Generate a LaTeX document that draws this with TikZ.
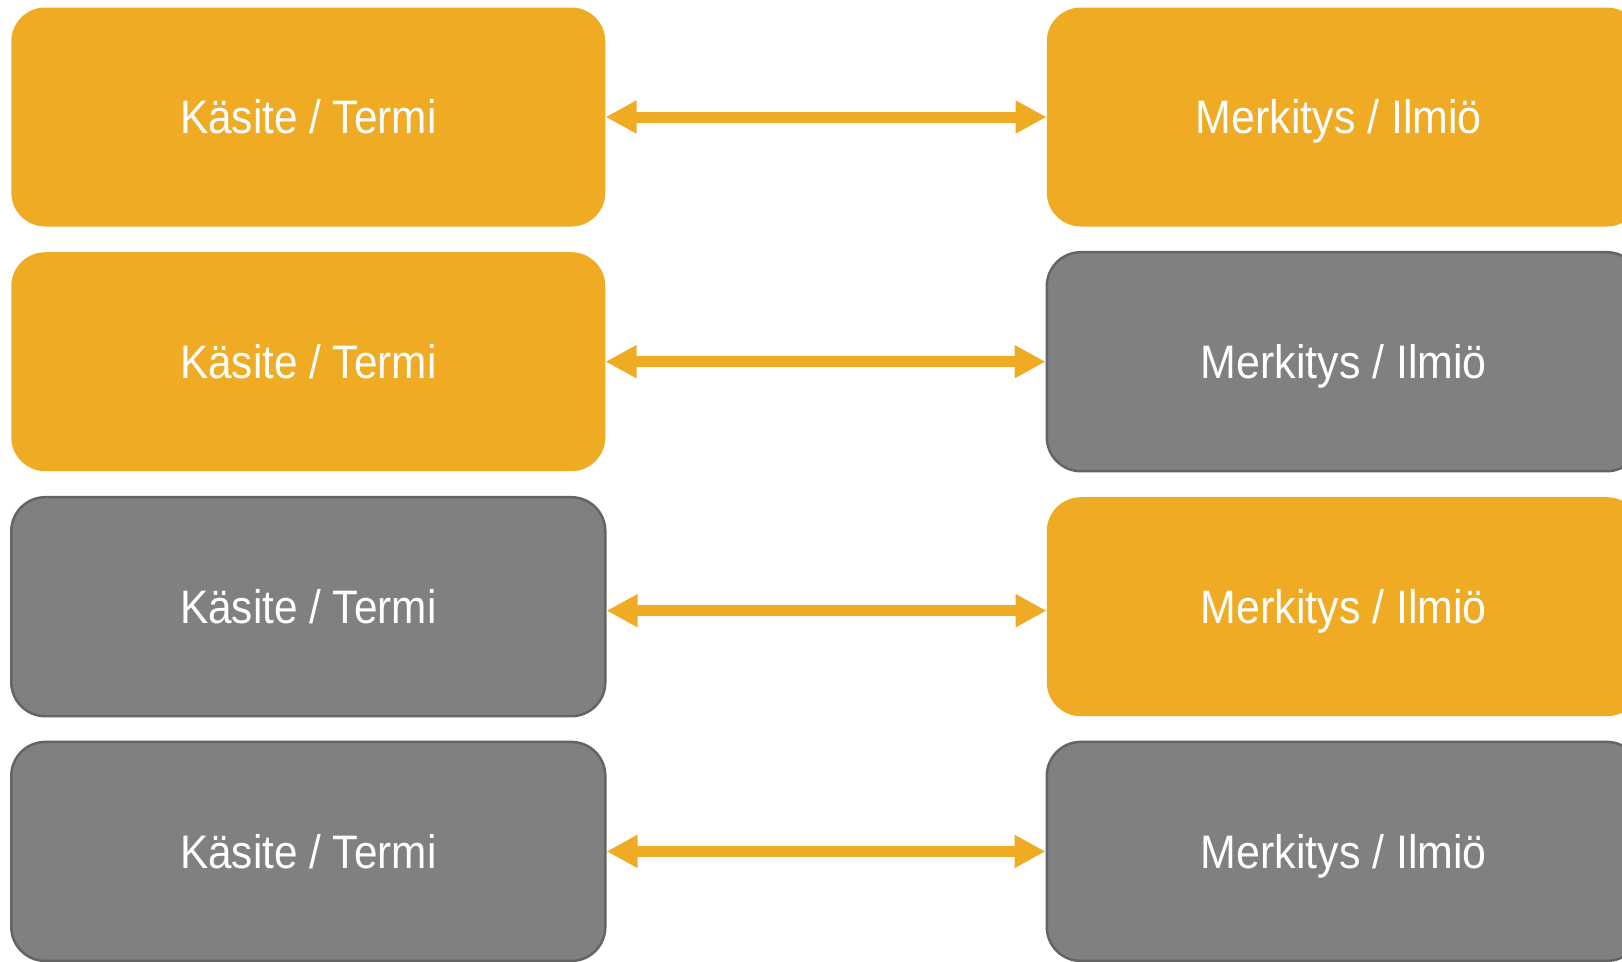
\documentclass[tikz,border=0pt]{standalone}
\usepackage{fontspec}
\setmainfont{Liberation Sans}
\usetikzlibrary{arrows.meta}
\definecolor{orng}{HTML}{F0AB25}
\definecolor{gfill}{HTML}{808080}
\definecolor{gline}{HTML}{646464}
\tikzset{
  box/.style={rectangle, rounded corners=34pt, minimum width=594pt, minimum height=219pt,
    inner sep=0pt, text=white, font=\fontsize{47pt}{50pt}\selectfont, text height=33.5pt, text depth=0pt},
  obox/.style={box, fill=orng},
  gbox/.style={box, fill=gfill, draw=gline, line width=2.5pt},
  link/.style={orng, line width=11pt, {Triangle[length=31pt,width=31pt]}-{Triangle[length=31pt,width=31pt]}},
}
\newcommand{\kt}{\scalebox{0.9}[1]{Käsite / Termi}}
\newcommand{\mi}{\scalebox{0.913}[1]{Merkitys / Ilmiö}}
\begin{document}
\begin{tikzpicture}[x=1pt,y=-1pt]
\useasboundingbox (0,0) rectangle (1622,961);
\clip (0,0) rectangle (1622,961);
\node[obox] (L1) at (308.3,117) {\kt};
\node[obox] (L2) at (308.3,361.7) {\kt};
\node[gbox] (L3) at (308.3,606.7) {\kt};
\node[gbox] (L4) at (308.3,851.4) {\kt};
\node[obox] (R1) at (1343.8,117) {\hspace*{-10pt}\mi};
\node[gbox] (R2) at (1343.8,361.7) {\mi};
\node[obox] (R3) at (1343.8,606.7) {\mi};
\node[gbox] (R4) at (1343.8,851.4) {\mi};
\draw[link] (L1.east) -- (R1.west);
\draw[link] (L2.east) -- (R2.west);
\draw[link] ([yshift=-4pt]L3.east) -- ([yshift=-4pt]R3.west);
\draw[link] (L4.east) -- (R4.west);
\end{tikzpicture}
\end{document}
